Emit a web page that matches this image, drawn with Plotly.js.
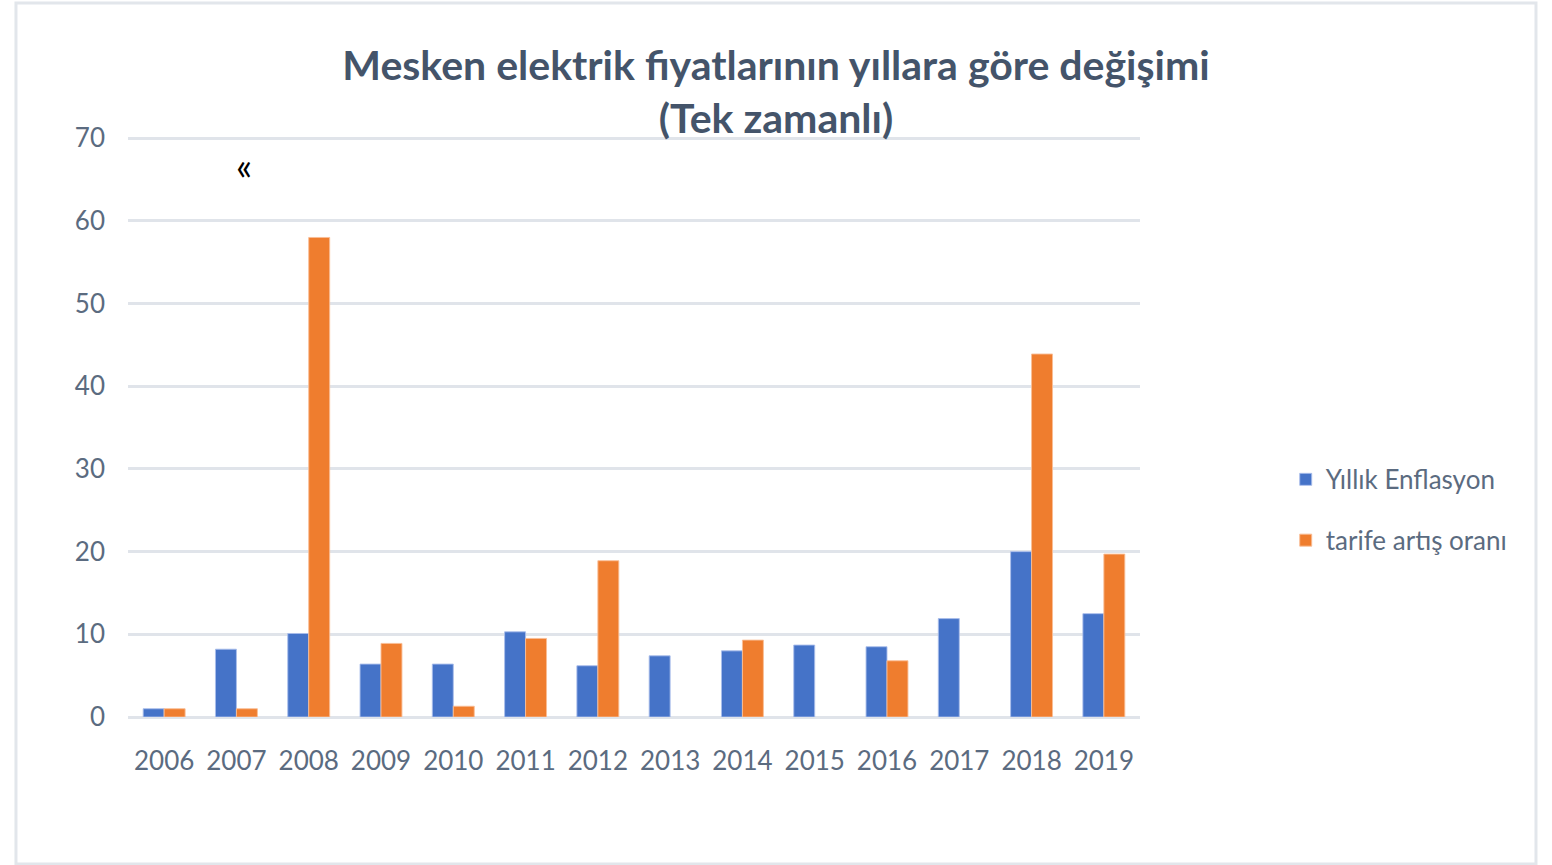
<!DOCTYPE html>
<html>
<head>
<meta charset="utf-8">
<script src="https://cdn.plot.ly/plotly-3.0.1.min.js"></script>
<style>html,body{margin:0;padding:0;background:#fff;}#chart{width:1552px;height:865px;}</style>
</head>
<body>
<div id="chart"></div>
<script>
const years = ['2006','2007','2008','2009','2010','2011','2012','2013','2014','2015','2016','2017','2018','2019'];
const yillikEnflasyon = [1.0, 8.2, 10.1, 6.4, 6.4, 10.3, 6.2, 7.4, 8.0, 8.7, 8.5, 11.9, 20.0, 12.5];
const tarifeArtisOrani = [1.0, 1.0, 58.0, 8.9, 1.3, 9.5, 18.9, null, 9.3, null, 6.8, null, 43.9, 19.7];
const seriesNames = ['Yıllık Enflasyon', 'tarife artış oranı'];
const yTicks = [0, 10, 20, 30, 40, 50, 60, 70];

const FONT = 'Lato, Carlito, Calibri, sans-serif';
const textColor = '#5B6B80';
const titleColor = '#44546A';

const traces = [
  {
    type: 'bar', name: seriesNames[0], x: years, y: yillikEnflasyon,
    legendgroup: 'a',
    marker: {color: '#4573C8', line: {color: 'rgba(170,190,235,0.9)', width: 1}}
  },
  {
    type: 'bar', name: seriesNames[1], x: years, y: tarifeArtisOrani,
    legendgroup: 'b',
    marker: {color: '#EF7D2E', line: {color: 'rgba(250,190,150,0.9)', width: 1}}
  }
];

const layout = {
  width: 1552, height: 865,
  paper_bgcolor: '#ffffff', plot_bgcolor: '#ffffff',
  margin: {l: 128, r: 412, t: 137, b: 148},
  font: {family: FONT, color: textColor, size: 26},
  title: {
    text: '<b>Mesken elektrik fiyatlarının yıllara göre değişimi<br>(Tek zamanlı)</b>',
    font: {family: FONT, size: 41, color: titleColor},
    x: 0.5, xanchor: 'center', y: 0.908, yanchor: 'top'
  },
  barmode: 'group', bargap: 0.42, bargroupgap: 0,
  xaxis: {
    type: 'category', showgrid: false, zeroline: false, showline: false,
    ticks: '', ticklabelstandoff: 26,
    tickfont: {family: FONT, size: 26, color: textColor}
  },
  yaxis: {
    range: [0, 70.15], tickvals: yTicks, ticktext: yTicks.map(String),
    showgrid: true, gridcolor: '#E0E4EA', gridwidth: 3,
    zeroline: true, zerolinecolor: '#E0E4EA', zerolinewidth: 3,
    showline: false, ticks: '', ticklabelstandoff: 22,
    tickfont: {family: FONT, size: 26, color: textColor}
  },
  showlegend: true,
  legend: {
    x: 1.144, xanchor: 'left', y: 0.357, yanchor: 'middle',
    font: {family: FONT, size: 26, color: textColor},
    tracegroupgap: 24, bgcolor: 'rgba(0,0,0,0)'
  },
  annotations: [
    {text: '«', xref: 'paper', yref: 'paper', x: (234 - 128) / 1012, y: (717 - 140) / 580,
     showarrow: false, font: {family: FONT, size: 38, color: '#000000'}}
  ],
  shapes: [
    {type: 'rect', xref: 'paper', yref: 'paper', x0: -0.1107, x1: 1.3913, y0: -0.2534, y1: 1.231,
     line: {color: '#E2E6EB', width: 3}, fillcolor: 'rgba(0,0,0,0)', layer: 'below'}
  ]
};

Plotly.newPlot('chart', traces, layout, {displayModeBar: false, staticPlot: true});
</script>
</body>
</html>
